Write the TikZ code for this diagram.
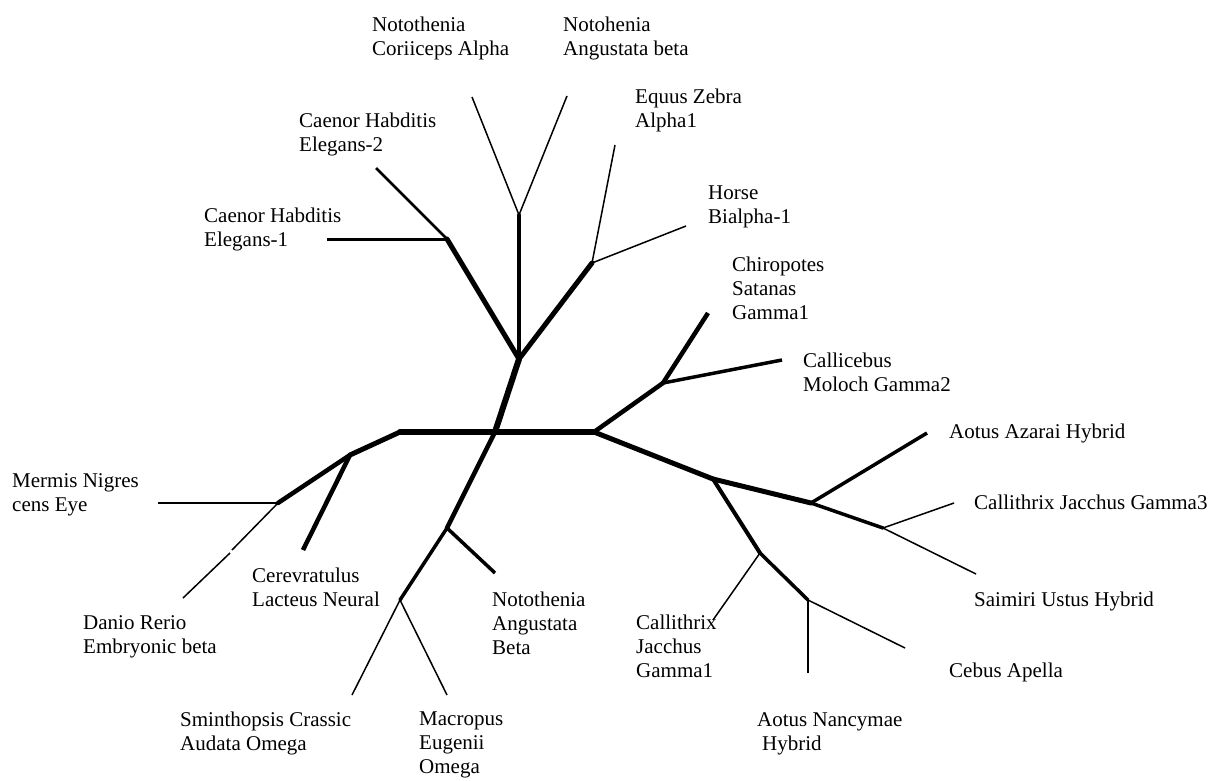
\documentclass[tikz,border=0pt]{standalone}
\usepackage{fontspec}
\setmainfont{Liberation Serif}
\begin{document}
\begin{tikzpicture}[x=1pt,y=-1pt,
  lbl/.style={anchor=north west,inner sep=0pt,align=left,
    font=\fontsize{21}{24}\selectfont},
  inner/.style={line cap=round,line width=#1},
  leaf/.style={line cap=butt,line width=#1},
  twig/.style={line cap=butt,line width=1.5pt}]
\useasboundingbox (0,0) rectangle (1212,781);

% internal junctions
\coordinate (c0) at (495,432);
\coordinate (cl) at (400,432);
\coordinate (cr) at (594,432);
\coordinate (up) at (519,359);
\coordinate (ca) at (447,239);
\coordinate (nt) at (519,215);
\coordinate (eq) at (592,263);
\coordinate (pr) at (663,383);
\coordinate (n1) at (713,479);
\coordinate (nb) at (811,503);
\coordinate (nc) at (883,528);
\coordinate (nd) at (760,553);
\coordinate (ne) at (808,600);
\coordinate (nf) at (350,455);
\coordinate (ng) at (278,503);
\coordinate (nh) at (447,528);
\coordinate (ni) at (400,600);

% leaf tips
\coordinate (tEl1) at (327,239);
\coordinate (tEl2) at (376,168);
\coordinate (tCor) at (472,97);
\coordinate (tAng) at (567,96);
\coordinate (tEqu) at (615,145);
\coordinate (tHor) at (686,226);
\coordinate (tChi) at (708,313);
\coordinate (tCal) at (782,360);
\coordinate (tAza) at (927,433);
\coordinate (tGa3) at (954,503);
\coordinate (tSai) at (976,574);
\coordinate (tGa1) at (713,620);
\coordinate (tNan) at (808,673);
\coordinate (tCeb) at (905,648);
\coordinate (tMer) at (158,503);
\coordinate (dA) at (232,550);
\coordinate (dB) at (230,553);
\coordinate (tDan) at (183,598);
\coordinate (tCer) at (303,550);
\coordinate (tNoB) at (495,573);
\coordinate (tSmi) at (352,695);
\coordinate (tMac) at (447,695);

% backbone
\draw[inner=6pt] (cl) -- (cr);
\draw[inner=6pt] (c0) -- (up);
\draw[inner=4.5pt] (c0) -- (nh);

% upper clade
\draw[inner=5pt] (up) -- (ca);
\draw[inner=4pt] (up) -- (nt);
\draw[inner=5pt] (up) -- (eq);
\draw[leaf=3pt] (ca) -- (tEl1);
\draw[leaf=2.5pt] (ca) -- (tEl2);
\draw[twig] (nt) -- (tCor);
\draw[twig] (nt) -- (tAng);
\draw[twig] (eq) -- (tEqu);
\draw[twig] (eq) -- (tHor);

% right clade
\draw[inner=4.5pt] (cr) -- (pr);
\draw[leaf=4.5pt] (pr) -- (tChi);
\draw[leaf=3.5pt] (pr) -- (tCal);
\draw[inner=5pt] (cr) -- (n1);
\draw[inner=5pt] (n1) -- (nb);
\draw[leaf=3.5pt] (nb) -- (tAza);
\draw[inner=3.5pt] (nb) -- (nc);
\draw[twig] (nc) -- (tGa3);
\draw[twig] (nc) -- (tSai);
\draw[inner=4pt] (n1) -- (nd);
\draw[twig] (nd) -- (tGa1);
\draw[inner=3.5pt] (nd) -- (ne);
\draw[twig] (ne) -- (tNan);
\draw[twig] (ne) -- (tCeb);

% left clade
\draw[inner=5pt] (cl) -- (nf);
\draw[inner=4.5pt] (nf) -- (ng);
\draw[leaf=4.5pt] (nf) -- (tCer);
\draw[twig] (ng) -- (tMer);
\draw[twig] (ng) -- (dA);
\draw[twig] (dB) -- (tDan);

% lower clade
\draw[leaf=3.5pt] (nh) -- (tNoB);
\draw[inner=3.5pt] (nh) -- (ni);
\draw[twig] (ni) -- (tSmi);
\draw[twig] (ni) -- (tMac);

% labels
\node[lbl] (lCor) at (372,17) {Notothenia\\Coriiceps Alpha};
\node[lbl] (lAng) at (563,17) {Notohenia\\Angustata beta};
\node[lbl] (lEqu) at (635,89) {Equus Zebra\\Alpha1};
\node[lbl] (lEl2) at (299,113) {Caenor Habditis\\Elegans-2};
\node[lbl] (lEl1) at (204,208) {Caenor Habditis\\Elegans-1};
\node[lbl] (lHor) at (708,186) {Horse\\Bialpha-1};
\node[lbl] (lChi) at (732,257) {Chiropotes\\Satanas\\Gamma1};
\node[lbl] (lCal) at (803,353) {Callicebus\\Moloch Gamma2};
\node[lbl] (lAza) at (949,424) {Aotus Azarai Hybrid};
\node[lbl] (lGa3) at (974,495) {Callithrix Jacchus Gamma3};
\node[lbl] (lSai) at (974,592) {Saimiri Ustus Hybrid};
\node[lbl] (lCeb) at (949,663) {Cebus Apella};
\node[lbl] (lNan) at (757,712) {Aotus Nancymae\\\hspace*{5pt}Hybrid};
\node[lbl] (lGa1) at (636,615) {Callithrix\\Jacchus\\Gamma1};
\node[lbl] (lNoB) at (492,592) {Notothenia\\Angustata\\Beta};
\node[lbl] (lMac) at (419,712) {Macropus\\Eugenii\\Omega};
\node[lbl] (lSmi) at (180,712) {Sminthopsis Crassic\\Audata Omega};
\node[lbl] (lDan) at (83,615) {Danio Rerio\\Embryonic beta};
\node[lbl] (lCer) at (252,568) {Cerevratulus\\Lacteus Neural};
\node[lbl] (lMer) at (12,473) {Mermis Nigres\\cens Eye};
\end{tikzpicture}
\end{document}
